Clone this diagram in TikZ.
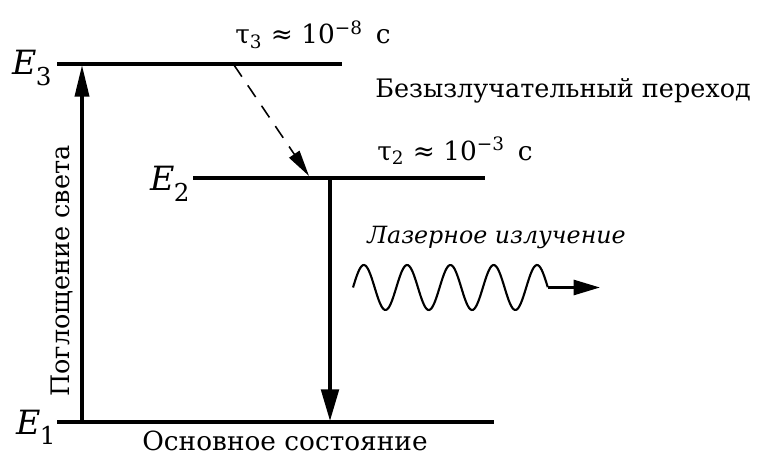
\documentclass[tikz,border=0pt]{standalone}
\usepackage{fontspec}
\setmainfont{DejaVu Serif}
\usetikzlibrary{arrows.meta}
\newcommand{\enlevel}[1]{\textit{E}\kern-0.5pt\raisebox{-0.32em}{\fontsize{14}{14}\selectfont #1}}

\begin{document}
\begin{tikzpicture}[x=0.02cm,y=-0.02cm,
  level/.style={line width=2.3pt},
  txt/.style={inner sep=0pt,font=\fontsize{14.5}{16}\selectfont},
  elabel/.style={inner sep=0pt,font=\fontsize{19}{20}\selectfont},
  pump/.style={line width=2pt,-{Triangle[length=18pt,width=8pt]}},
  relax/.style={line width=0.9pt,dash pattern=on 8pt off 6pt,-{Triangle[length=15pt,width=7pt]}},
]
  \useasboundingbox (0,0) rectangle (761,456);

  \coordinate (e3a) at (57,64);   \coordinate (e3b) at (342,64);
  \coordinate (e2a) at (193,178); \coordinate (e2b) at (485,178);
  \coordinate (e1a) at (57,422);  \coordinate (e1b) at (494,422);

  \draw[level,line width=1.8pt] (e3a) -- (e3b);
  \draw[level] (e2a) -- (e2b);
  \draw[level,line width=2.8pt] (e1a) -- (e1b);

  \node[elabel,anchor=base west] (l3) at (12,75) {\enlevel{3}};
  \node[elabel,anchor=base west] (l2) at (150,191) {\enlevel{2}};
  \node[elabel,anchor=base west] (l1) at (16,434) {\enlevel{1}};

  \coordinate (pump1) at (82,421);  \coordinate (pump3) at (82,65);
  \coordinate (relax3) at (234,65); \coordinate (relax2) at (309,176);
  \coordinate (lase2) at (330,179); \coordinate (lase1) at (330,421);

  \draw[pump] (pump1) -- (pump3);
  \draw[relax] (relax3) -- (relax2);
  \draw[pump,-{Triangle[length=18pt,width=10pt]}] (lase2) -- (lase1);

  \node[txt,anchor=base west,font=\fontsize{15}{16}\selectfont] (tau3) at (235,44) {τ\textsubscript{3} ≈ 10\textsuperscript{−8}\, с};
  \node[txt,anchor=base west,font=\fontsize{15}{16}\selectfont] (tau2) at (377,160) {τ\textsubscript{2} ≈ 10\textsuperscript{−3}\, с};
  \node[txt,anchor=base west] (nonrad) at (375,98) {Безызлучательный переход};
  \node[txt,anchor=base west,rotate=90] (absorb) at (70,397) {Поглощение света};
  \node[txt,anchor=base west,font=\fontsize{15}{16}\selectfont] (ground) at (142,450) {Основное состояние};
  \node[txt,anchor=base west,font=\fontsize{13.5}{16}\selectfont\itshape] (laser) at (367,243) {Лазерное излучение};

  \coordinate (wave1) at (548,287.5); \coordinate (beam) at (600,287.5);
  \draw[line width=1.2pt] plot[domain=0:4.5,samples=160] ({353+43.3*\x},{287.5-22.5*sin(360*\x)});
  \draw[line width=1.7pt,-{Triangle[length=15pt,width=8.5pt]}] (wave1) -- (beam);
\end{tikzpicture}
\end{document}
